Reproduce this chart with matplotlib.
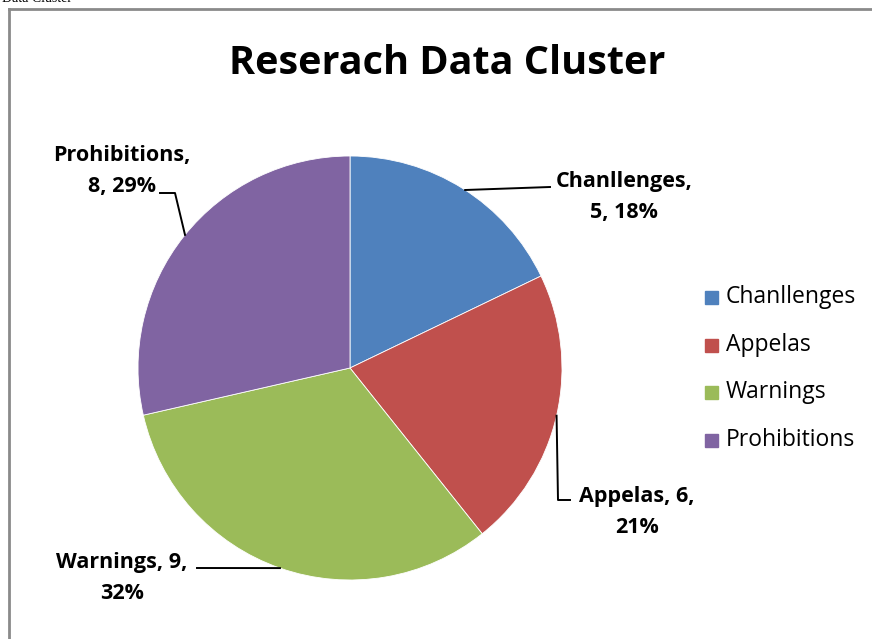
import numpy as np
import matplotlib.pyplot as plt
from matplotlib.patches import Rectangle

categories = ["Chanllenges", "Appelas", "Warnings", "Prohibitions"]
counts = [5, 6, 9, 8]
colors = ["#4F81BD", "#C0504D", "#9BBB59", "#8064A2"]

W, H = 872, 639
CENTER = (350, H - 368)
RADIUS = 212

# label layout (pixel coords, y from top): text anchor, leader path, edge angle
label_layout = {
    "Chanllenges": dict(text=(624, 197), lines=["{c},", "{v}, {p}%"], path=[(550, 187)], ang=57.1),
    "Appelas": dict(text=(637, 512), lines=["{c}, {v},", "{p}%"], path=[(558, 500), (570, 500)], ang=-13.0),
    "Warnings": dict(text=(122, 578), lines=["{c}, {v},", "{p}%"], path=[(197, 568)], ang=-109.3),
    "Prohibitions": dict(text=(122, 171), lines=["{c},", "{v}, {p}%"], path=[(175, 193), (160, 193)], ang=141.1),
}

plt.rcParams['font.family'] = ['Open Sans', 'DejaVu Sans']

fig = plt.figure(figsize=(W / 100, H / 100), dpi=100)
ax = fig.add_axes([0, 0, 1, 1])

wedges, _ = ax.pie(counts, colors=colors, startangle=90, counterclock=False,
                   center=CENTER, radius=RADIUS,
                   wedgeprops=dict(edgecolor="white", linewidth=0.6))
ax.set_xlim(0, W)
ax.set_ylim(0, H)
ax.set_aspect("equal")
ax.axis("off")

# outer chart border
ax.plot([9, W + 5], [H - 9, H - 9], color="#8a8a8a", lw=2, clip_on=False)
ax.plot([9, 9], [H - 9, -5], color="#8a8a8a", lw=2, clip_on=False)
ax.text(2, H + 1, "Data Cluster", fontsize=10, family="Liberation Serif", va="center", ha="left")

ax.text(447, H - 63, "Reserach Data Cluster", fontsize=28.5, fontweight="bold",
        ha="center", va="center")

total = sum(counts)
for cat, val in zip(categories, counts):
    lay = label_layout[cat]
    pct = round(val / total * 100)
    txt = "\n".join(s.format(c=cat, v=val, p=pct) for s in lay["lines"])
    tx, ty = lay["text"]
    ax.text(tx, H - ty, txt, fontsize=15.5, fontweight="bold", ha="center", va="center",
            linespacing=1.65)
    a = np.deg2rad(lay["ang"])
    ex = CENTER[0] + RADIUS * np.cos(a)
    ey = CENTER[1] + RADIUS * np.sin(a)
    xs = [ex] + [p[0] for p in lay["path"]]
    ys = [ey] + [H - p[1] for p in lay["path"]]
    ax.plot(xs, ys, color="black", lw=1.4)

# legend
leg_y = [297, 345, 392, 440]
for cat, col, ly in zip(categories, colors, leg_y):
    ax.add_patch(Rectangle((705, H - ly - 7), 13, 13, color=col))
    ax.text(726, H - ly, cat, fontsize=16.5, ha="left", va="center")

fig.savefig("out.png", dpi=100)
